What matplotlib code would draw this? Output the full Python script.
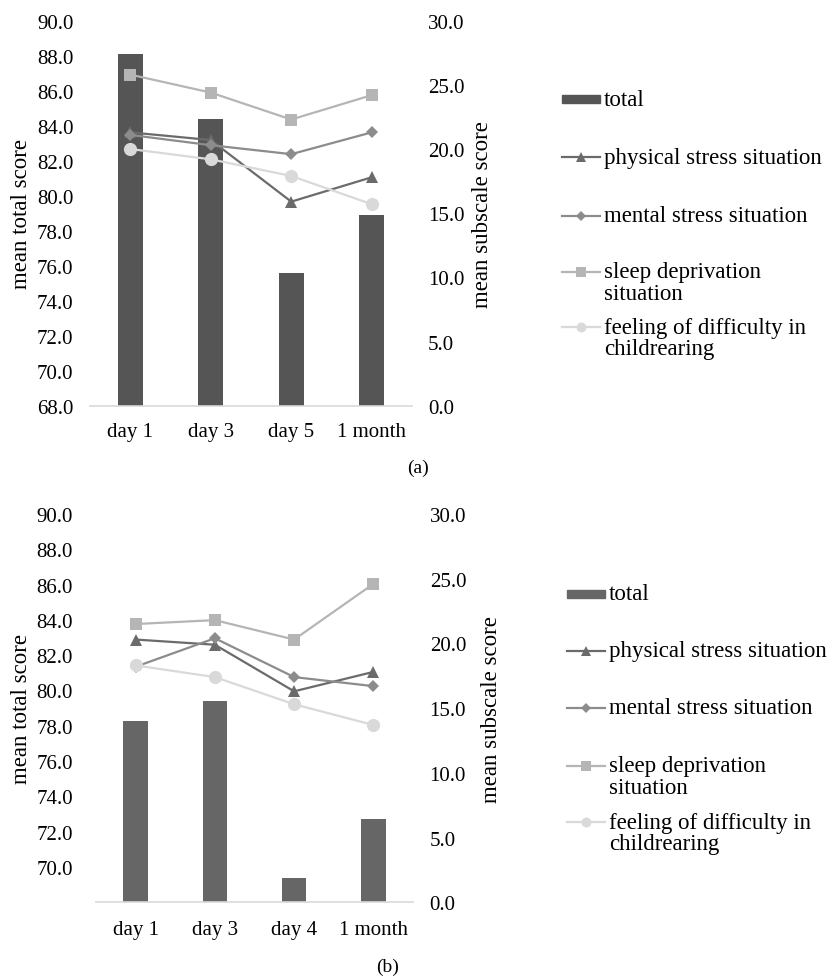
import matplotlib
matplotlib.use("Agg")
import matplotlib.pyplot as plt
from matplotlib.lines import Line2D
from matplotlib.patches import Rectangle

plt.rcParams['font.family'] = ['Liberation Serif', 'DejaVu Serif']

# ---------------- data ----------------
cats_a = ["day 1", "day 3", "day 5", "1 month"]
total_a = [88.1, 84.4, 75.6, 78.9]
physical_a = [21.3, 20.7, 15.9, 17.8]
mental_a = [21.1, 20.3, 19.6, 21.3]
sleep_a = [25.8, 24.4, 22.3, 24.2]
feeling_a = [20.0, 19.2, 17.9, 15.7]

cats_b = ["day 1", "day 3", "day 4", "1 month"]
total_b = [78.3, 79.4, 69.4, 72.7]
physical_b = [20.3, 19.9, 16.3, 17.8]
mental_b = [18.2, 20.4, 17.4, 16.7]
sleep_b = [21.5, 21.8, 20.3, 24.6]
feeling_b = [18.3, 17.4, 15.3, 13.7]

left_ticks_a = [68, 70, 72, 74, 76, 78, 80, 82, 84, 86, 88, 90]
left_ticks_b = [70, 72, 74, 76, 78, 80, 82, 84, 86, 88, 90]
right_ticks = [0, 5, 10, 15, 20, 25, 30]

series_labels = ["total", "physical stress situation", "mental stress situation",
                 "sleep deprivation\nsituation", "feeling of difficulty in\nchildrearing"]

# ---------------- styles ----------------
W, H = 834, 978
FS = 15
FSL = 16.5
c_phys, c_ment, c_sleep, c_feel = "#6b6b6b", "#8c8c8c", "#b5b5b5", "#d9d9d9"
line_styles = [
    dict(color=c_phys, marker="^", ms=9),
    dict(color=c_ment, marker="D", ms=6.5),
    dict(color=c_sleep, marker="s", ms=9),
    dict(color=c_feel, marker="o", ms=9.5),
]

fig = plt.figure(figsize=(W / 100, H / 100), dpi=100)


def fx(px):
    return px / W


def fy(py):
    return 1 - py / H


def panel(rect, cats, total, lines, bar_color, lticks, lpad, rpad, xpad, ylab_x, rlab_x):
    ax = fig.add_axes(rect)
    x = list(range(len(cats)))
    ax.bar(x, total, width=0.31, color=bar_color, zorder=1)
    ax.set_xlim(-0.5, len(cats) - 0.5)
    ax.set_ylim(68, 90)
    ax.set_yticks(lticks)
    ax.set_yticklabels([f"{v:.1f}" for v in lticks])
    ax.set_xticks(x)
    ax.set_xticklabels(cats)
    for s in ["top", "left", "right"]:
        ax.spines[s].set_visible(False)
    ax.spines["bottom"].set_color("#d9d9d9")
    ax.spines["bottom"].set_linewidth(1.2)
    ax.tick_params(axis="y", length=0, pad=lpad, labelsize=FS)
    ax.tick_params(axis="x", length=0, pad=xpad, labelsize=FS)
    ax.text(ylab_x, 0.5, "mean total score", transform=ax.transAxes, rotation=90,
            ha="center", va="center", fontsize=FSL)
    ax.patch.set_visible(False)

    ax2 = ax.twinx()
    ax2.set_ylim(0, 30)
    ax2.set_yticks(right_ticks)
    ax2.set_yticklabels([f"{v:.1f}" for v in right_ticks])
    for s in ["top", "left", "right", "bottom"]:
        ax2.spines[s].set_visible(False)
    ax2.tick_params(axis="y", length=0, pad=rpad, labelsize=FS)
    for vals, st in zip(lines, line_styles):
        ax2.plot(x, vals, color=st["color"], lw=1.6, marker=st["marker"],
                 markersize=st["ms"], markeredgewidth=0, zorder=3)
    ax2.text(rlab_x, 0.5, "mean subscale score", transform=ax2.transAxes, rotation=90,
             ha="center", va="center", fontsize=FSL)
    return ax, ax2


def legend(x0, x1, xt, ys, bar_color):
    # total (bar patch)
    fig.add_artist(Rectangle((fx(x0), fy(ys[0] + 4)), fx(x1) - fx(x0), fy(ys[0] - 4) - fy(ys[0] + 4),
                             transform=fig.transFigure, color=bar_color))
    fig.text(fx(xt), fy(ys[0]), series_labels[0], ha="left", va="center", fontsize=FSL)
    for lab, st, y in zip(series_labels[1:], line_styles, ys[1:]):
        fig.add_artist(Line2D([fx(x0), fx(x1)], [fy(y), fy(y)], transform=fig.transFigure,
                              color=st["color"], lw=1.6))
        fig.add_artist(Line2D([fx((x0 + x1) / 2)], [fy(y)], transform=fig.transFigure,
                              color=st["color"], marker=st["marker"], markersize=st["ms"] * 0.75,
                              markeredgewidth=0, linestyle="none"))
        nlines = lab.count("\n") + 1
        yc = y + (nlines - 1) * 11
        fig.text(fx(xt), fy(yc), lab, ha="left", va="center", fontsize=FSL, linespacing=1.05)


# panel (a)
panel([fx(90), fy(406.7), fx(412) - fx(90), fy(21.7) - fy(406.7)], cats_a, total_a,
      [physical_a, mental_a, sleep_a, feeling_a], "#555555", left_ticks_a, 12, 11.5, 12,
      -0.212, 1.22)
legend(562, 600, 604, [100, 158.3, 216.7, 272.7, 328], "#555555")
fig.text(fx(418), fy(468), "(a)", ha="center", va="center", fontsize=14)

# panel (b)
panel([fx(96), fy(903.3), fx(413) - fx(96), fy(515) - fy(903.3)], cats_b, total_b,
      [physical_b, mental_b, sleep_b, feeling_b], "#666666", left_ticks_b, 16.5, 12, 13,
      -0.235, 1.247)
legend(567, 605, 609, [595, 651.7, 709, 766.7, 823], "#666666")
fig.text(fx(388), fy(967), "(b)", ha="center", va="center", fontsize=14)

fig.savefig("out.png", dpi=100)
